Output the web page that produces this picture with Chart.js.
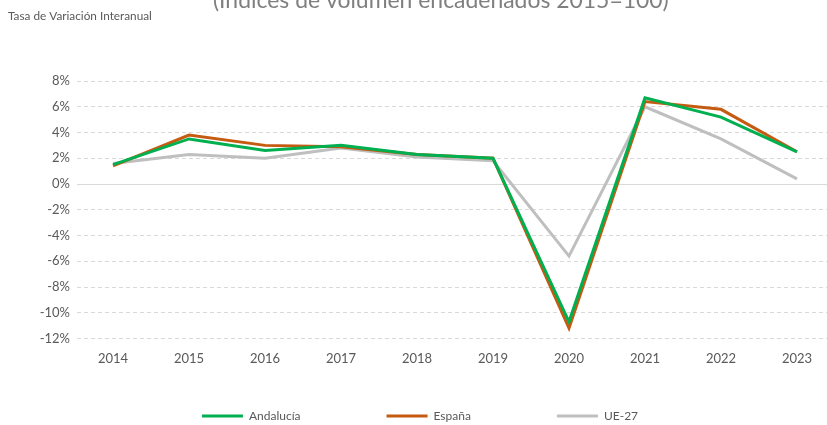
<!DOCTYPE html>
<html>
<head>
<meta charset="utf-8">
<script src="https://cdn.jsdelivr.net/npm/chart.js@4/dist/chart.umd.min.js"></script>
<style>
  html, body { margin: 0; padding: 0; background: #ffffff; }
  #wrap { width: 827px; height: 425px; position: relative; }
</style>
</head>
<body>
<div id="wrap"><canvas id="c" width="827" height="425"></canvas></div>
<script>
const categories = ['2014','2015','2016','2017','2018','2019','2020','2021','2022','2023'];
const andalucia = [1.5, 3.5, 2.6, 3.0, 2.3, 2.0, -10.7, 6.7, 5.2, 2.5];
const espana    = [1.4, 3.8, 3.0, 2.9, 2.3, 2.0, -11.2, 6.4, 5.8, 2.5];
const ue27      = [1.6, 2.3, 2.0, 2.8, 2.1, 1.8, -5.6, 6.0, 3.5, 0.4];
const yTicks = [8, 6, 4, 2, 0, -2, -4, -6, -8, -10, -12];
const titleText = '(Índices de volumen encadenados 2015=100)';
const subtitleText = 'Tasa de Variación Interanual';

const FONT = 'Lato, "Open Sans", sans-serif';
const LEGEND_PAD = 86;
const toXY = arr => arr.map((v, i) => ({ x: i, y: v }));

const textPlugin = {
  id: 'texts',
  afterLayout(chart) {
    // keep the wide horizontal item spacing but place the row near the bottom
    const lg = chart.legend;
    if (lg) {
      lg.top = 410 - LEGEND_PAD;
      lg.left += 6.5;
      lg.right += 6.5;
    }
  },
  afterDraw(chart) {
    const ctx = chart.ctx;
    ctx.save();
    ctx.font = '20px ' + FONT;
    let w = ctx.measureText(titleText).width;
    let size = 20 * 456 / w;
    ctx.font = size + 'px ' + FONT;
    ctx.fillStyle = '#7f7f7f';
    ctx.textBaseline = 'alphabetic';
    ctx.textAlign = 'left';
    ctx.fillText(titleText, 213, 7.5);
    ctx.font = '10px ' + FONT;
    w = ctx.measureText(subtitleText).width;
    size = 10 * 144 / w;
    ctx.font = size + 'px ' + FONT;
    ctx.fillStyle = '#595959';
    ctx.fillText(subtitleText, 8, 20);
    ctx.restore();
  }
};

const ds = (label, data, color) => ({
  label, data: toXY(data), borderColor: color, backgroundColor: color,
  borderWidth: 3, pointRadius: 0, pointHoverRadius: 0, tension: 0, fill: false
});

new Chart(document.getElementById('c'), {
  type: 'line',
  data: {
    datasets: [
      ds('Andalucía', andalucia, '#00B050'),
      ds('España', espana, '#C55A11'),
      ds('UE-27', ue27, '#BFBFBF')
    ]
  },
  options: {
    responsive: false,
    animation: false,
    events: [],
    layout: { padding: { top: 81, left: 0, right: 0, bottom: 0 } },
    plugins: {
      tooltip: { enabled: false },
      title: { display: false },
      legend: {
        position: 'bottom',
        maxHeight: 20,
        labels: {
          usePointStyle: true,
          pointStyle: 'line',
          pointStyleWidth: 41,
          boxHeight: 12,
          padding: LEGEND_PAD,
          color: '#595959',
          font: { family: FONT, size: 12 }
        },
        onClick: null
      }
    },
    scales: {
      x: {
        type: 'linear',
        min: -0.474,
        max: 9.395,
        afterBuildTicks: axis => { axis.ticks = categories.map((_, i) => ({ value: i })); },
        afterFit: axis => { axis.height = 66.5; },
        grid: { display: false },
        border: { display: false },
        ticks: {
          autoSkip: false,
          maxRotation: 0,
          padding: 5,
          color: '#595959',
          font: { family: FONT, size: 13 },
          callback: v => categories[v]
        }
      },
      y: {
        min: -12,
        max: 8,
        afterBuildTicks: axis => { axis.ticks = yTicks.map(v => ({ value: v })); },
        afterFit: axis => { axis.width = 77; },
        grid: {
          color: '#d9d9d9',
          lineWidth: 1,
          drawTicks: false
        },
        border: {
          display: false,
          dash: ctx => (ctx.tick && ctx.tick.value === 0) ? [] : [4, 3]
        },
        ticks: {
          autoSkip: false,
          padding: 7,
          color: '#595959',
          font: { family: FONT, size: 13 },
          callback: v => v + '%'
        }
      }
    }
  },
  plugins: [textPlugin]
});
</script>
</body>
</html>
